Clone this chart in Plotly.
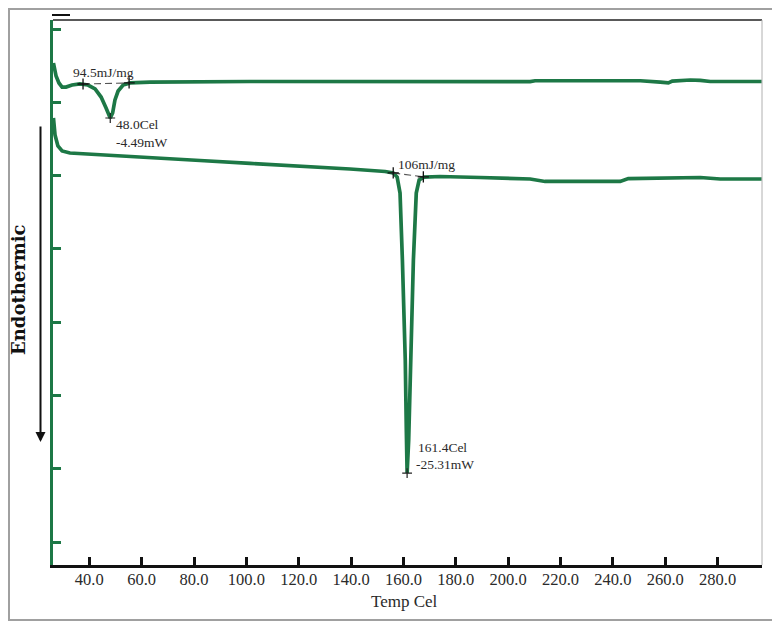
import plotly.graph_objects as go

# ---- data (temperature in Cel, heat flow in display mW units) ----
upper_temp = [26.3, 27.3, 28.4, 29.6, 31.1, 33.4, 36.4, 39.5, 42.2, 44.5, 46.4, 48.0, 48.9, 49.8,
              51.0, 52.9, 55.6, 63.2, 101.4, 166.4, 208.4, 210.3, 250.5, 258.1, 261.2, 262.7,
              269.6, 273.4, 277.2, 296.9]
upper_flow = [2.68, 1.79, 1.32, 1.04, 1.04, 1.18, 1.25, 1.18, 0.91, 0.36, -0.39, -1.07, -0.73, 0.16,
              0.77, 1.18, 1.32, 1.38, 1.42, 1.41, 1.41, 1.47, 1.47, 1.38, 1.32, 1.45,
              1.52, 1.49, 1.42, 1.42]

lower_temp = [26.3, 26.9, 28.0, 29.6, 32.6, 44.1, 63.2, 82.3, 101.4, 120.5, 139.6, 153.0, 156.1,
              157.6, 158.7, 159.6, 160.7, 161.1, 161.4, 162.0, 162.8, 163.8, 164.9, 166.0, 167.9,
              174.0, 189.3, 208.4, 214.1, 242.8, 245.9, 265.7, 273.4, 281.0, 296.9]
lower_flow = [-1.07, -2.23, -2.98, -3.32, -3.46, -3.59, -3.77, -3.97, -4.17, -4.35, -4.55, -4.72, -4.82,
              -5.10, -6.19, -10.76, -17.58, -22.35, -25.29, -23.04, -17.58, -10.76, -6.19, -5.30, -5.10,
              -5.06, -5.13, -5.23, -5.40, -5.40, -5.20, -5.16, -5.13, -5.23, -5.23]

base1_temp = [37.6, 55.2]
base1_flow = [1.25, 1.32]
base2_temp = [156.1, 167.6]
base2_flow = [-4.82, -5.08]

x_ticks = [40, 60, 80, 100, 120, 140, 160, 180, 200, 220, 240, 260, 280]
x_ticktext = [f"{v:.1f}" for v in x_ticks]
y_ticks = [-30, -25, -20, -15, -10, -5, 0, 5]

GREEN = "#1d7846"
SERIF = "Liberation Serif, Times New Roman, serif"

fig = go.Figure()
fig.add_trace(go.Scatter(x=upper_temp, y=upper_flow, mode="lines",
                         line=dict(color=GREEN, width=3.7), hoverinfo="skip"))
fig.add_trace(go.Scatter(x=lower_temp, y=lower_flow, mode="lines",
                         line=dict(color=GREEN, width=3.7), hoverinfo="skip"))
for bx, by in ((base1_temp, base1_flow), (base2_temp, base2_flow)):
    fig.add_trace(go.Scatter(x=bx, y=by, mode="lines+markers",
                             line=dict(color="#555555", width=1.2, dash="7px,4px"),
                             marker=dict(symbol="cross-thin", size=8,
                                         line=dict(color="#111111", width=1.3)),
                             hoverinfo="skip"))
# peak markers
fig.add_trace(go.Scatter(x=[48.0, 161.4], y=[-1.07, -25.29], mode="markers",
                         marker=dict(symbol="cross-thin", size=7, line=dict(color="#222222", width=1.2)),
                         hoverinfo="skip"))

# the page body adds an 8px offset; size the figure so the plot lands where the reference has it
OFF = 8
W, H = 780 - OFF, 623 - OFF
L, R, T, B = 53 - OFF, 18, 20 - OFF, 58
pw, ph = W - L - R, H - T - B


def px(xp):  # page pixel x -> paper
    return (xp - OFF - L) / pw


def py(yp):  # page pixel y -> paper
    return (H - B - (yp - OFF)) / ph


shapes = [
    # outer frame
    dict(type="rect", xref="paper", yref="paper", x0=px(9), x1=px(778), y0=py(620), y1=py(9),
         line=dict(color="#a0a0a0", width=2)),
    # top frame line
    dict(type="line", xref="paper", yref="paper", x0=0, x1=1, y0=1, y1=1,
         line=dict(color="#222222", width=1.5)),
    # right frame line
    dict(type="line", xref="paper", yref="paper", x0=1, x1=1, y0=0, y1=1,
         line=dict(color="#b0b0b0", width=1)),
    # small black mark at top-left
    dict(type="line", xref="paper", yref="paper", x0=px(52), x1=px(70), y0=py(15), y1=py(15),
         line=dict(color="#111111", width=2)),
]

ann_font = dict(family=SERIF, size=13.5, color="#2a2a2a")
annotations = [
    dict(x=px(71), y=py(72), xref="paper", yref="paper", text="94.5mJ/mg", showarrow=False,
         xanchor="left", yanchor="middle", font=ann_font),
    dict(x=px(114), y=py(125), xref="paper", yref="paper", text="48.0Cel", showarrow=False,
         xanchor="left", yanchor="middle", font=ann_font),
    dict(x=px(114), y=py(143), xref="paper", yref="paper", text="-4.49mW", showarrow=False,
         xanchor="left", yanchor="middle", font=ann_font),
    dict(x=px(396), y=py(165), xref="paper", yref="paper", text="106mJ/mg", showarrow=False,
         xanchor="left", yanchor="middle", font=ann_font),
    dict(x=px(416), y=py(447), xref="paper", yref="paper", text="161.4Cel", showarrow=False,
         xanchor="left", yanchor="middle", font=ann_font),
    dict(x=px(414), y=py(464), xref="paper", yref="paper", text="-25.31mW", showarrow=False,
         xanchor="left", yanchor="middle", font=ann_font),
    # x-axis title
    dict(x=px(404), y=py(601), xref="paper", yref="paper", text="Temp Cel", showarrow=False,
         xanchor="center", yanchor="middle",
         font=dict(family=SERIF, size=17, color="#2a2a2a")),
    # Endothermic label
    dict(x=px(18), y=py(290), xref="paper", yref="paper", text="<b>Endothermic</b>", showarrow=False,
         textangle=-90, xanchor="center", yanchor="middle",
         font=dict(family="DejaVu Serif, serif", size=18, color="#111111")),
    # downward arrow
    dict(x=px(40.5), y=py(442), xref="paper", yref="paper", text="", showarrow=True,
         ax=0, ay=-317, axref="pixel", ayref="pixel", arrowhead=2, arrowsize=1.0,
         arrowwidth=2, arrowcolor="#111111"),
]

fig.update_layout(
    width=W, height=H,
    margin=dict(l=L, r=R, t=T, b=B),
    paper_bgcolor="white", plot_bgcolor="white",
    showlegend=False,
    shapes=shapes,
    annotations=annotations,
    xaxis=dict(range=[26.13, 296.97], tickvals=x_ticks, ticktext=x_ticktext,
               ticks="inside", ticklen=8, tickwidth=3, tickcolor="#111111",
               showline=True, linecolor="#111111", linewidth=3,
               showgrid=False, zeroline=False, automargin=False,
               ticklabelstandoff=-3,
               tickfont=dict(family=SERIF, size=16.5, color="#2a2a2a")),
    yaxis=dict(range=[-31.56, 5.614], tickvals=y_ticks, showticklabels=False,
               ticks="inside", ticklen=8, tickwidth=3, tickcolor=GREEN,
               showline=True, linecolor=GREEN, linewidth=3,
               showgrid=False, zeroline=False, automargin=False),
)

fig.write_html("out.html")
